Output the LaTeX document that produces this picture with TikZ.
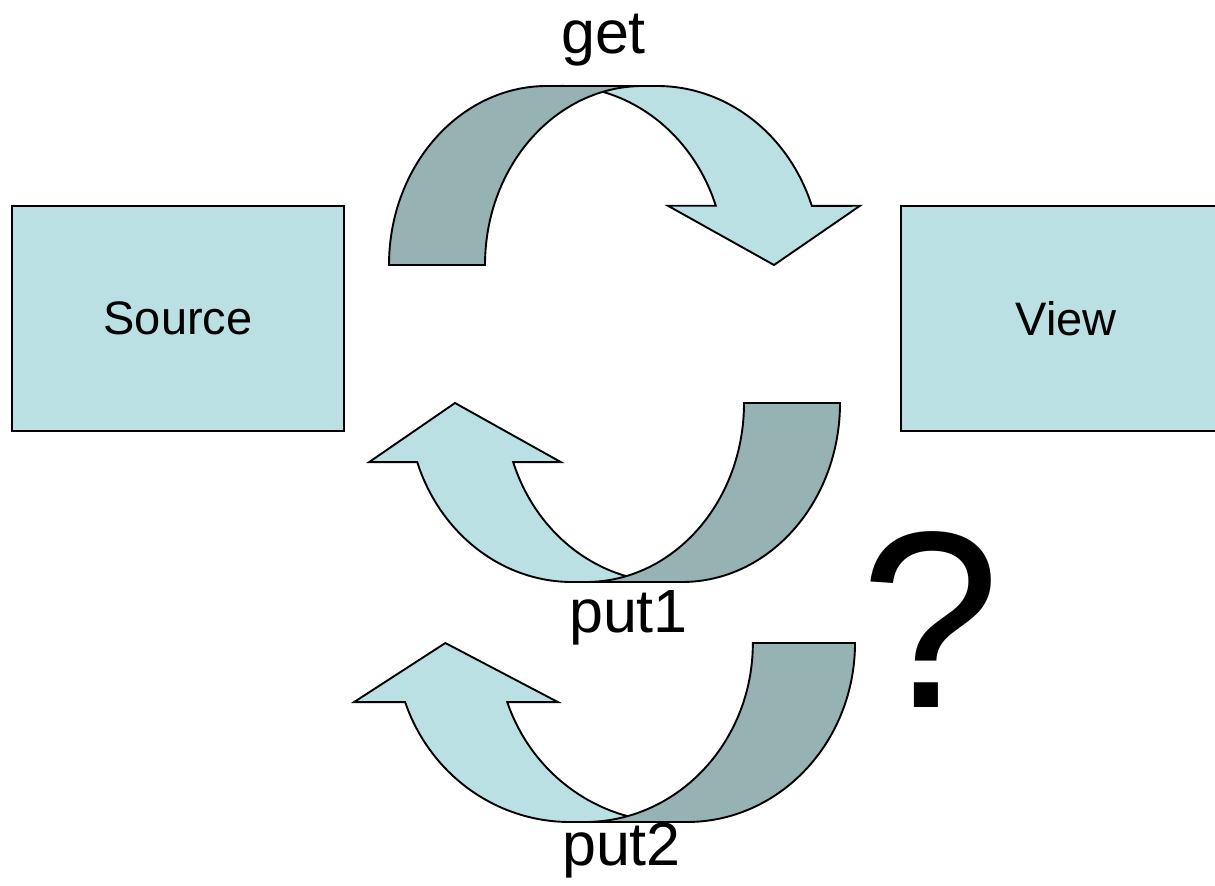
\documentclass[tikz,border=0pt]{standalone}
\usepackage{fontspec}
\setmainfont{Liberation Sans}

\definecolor{paleteal}{HTML}{BBE0E3}
\definecolor{darkteal}{HTML}{96B2B3}

\tikzset{
  band front/.style={fill=paleteal, draw=black, line width=0.95pt, line join=miter},
  band back/.style={fill=darkteal, draw=black, line width=0.95pt},
  box/.style={draw=black, fill=paleteal, line width=1pt, inner sep=0pt,
              font=\fontsize{23.5}{28}\selectfont},
  caption/.style={inner sep=0pt, anchor=base, font=\fontsize{30.5}{36}\selectfont},
}

% A curved "down" arrow in local coordinates (origin = lower-left corner of
% the back band, y pointing down): the pale front band with its head, and
% the darker back band on top of it.
\newcommand\bentarrow{%
  \path[band front] (268,-179)
      arc[start angle=270, end angle=340.7, x radius=164, y radius=179]
      -- (471,-59.2) -- (385,0) -- (279,-59.2) -- (326.8,-59.2)
      arc[start angle=340.7, end angle=270, x radius=164, y radius=179]
      -- cycle;
  \path[band back] (0,0)
      arc[start angle=180, end angle=270, x radius=158, y radius=179]
      -- (254,-179)
      arc[start angle=270, end angle=180, x radius=158, y radius=179]
      -- cycle;
}

\begin{document}
\begin{tikzpicture}[x=0.5pt, y=-0.5pt]
  \useasboundingbox (0,0) rectangle (1215,886);

  % end points
  \node[box, minimum width=166pt, minimum height=112.5pt] (source) at (178,318.5) {Source};
  \node[box, minimum width=165pt, minimum height=112.5pt] (view) at (1066,318.5) {View};

  % get: from Source over to View
  \begin{scope}[shift={(389,265)}]
    \bentarrow
  \end{scope}
  % put1: back from View to Source
  \begin{scope}[shift={(840,403)}, rotate=180]
    \bentarrow
  \end{scope}
  % put2: a second, slightly wider way back
  \begin{scope}[shift={(855,643)}, rotate=180, xscale=1.064]
    \bentarrow
  \end{scope}

  \node[caption] (get) at (603.5,54) {get};
  \node[caption] (put1) at (628.5,633) {put1};
  \node[caption] (put2) at (621.5,865) {put2};
  \node[inner sep=0pt, anchor=base, font=\fontsize{126}{150}\selectfont] (q) at (930.5,708) {?};
\end{tikzpicture}
\end{document}
